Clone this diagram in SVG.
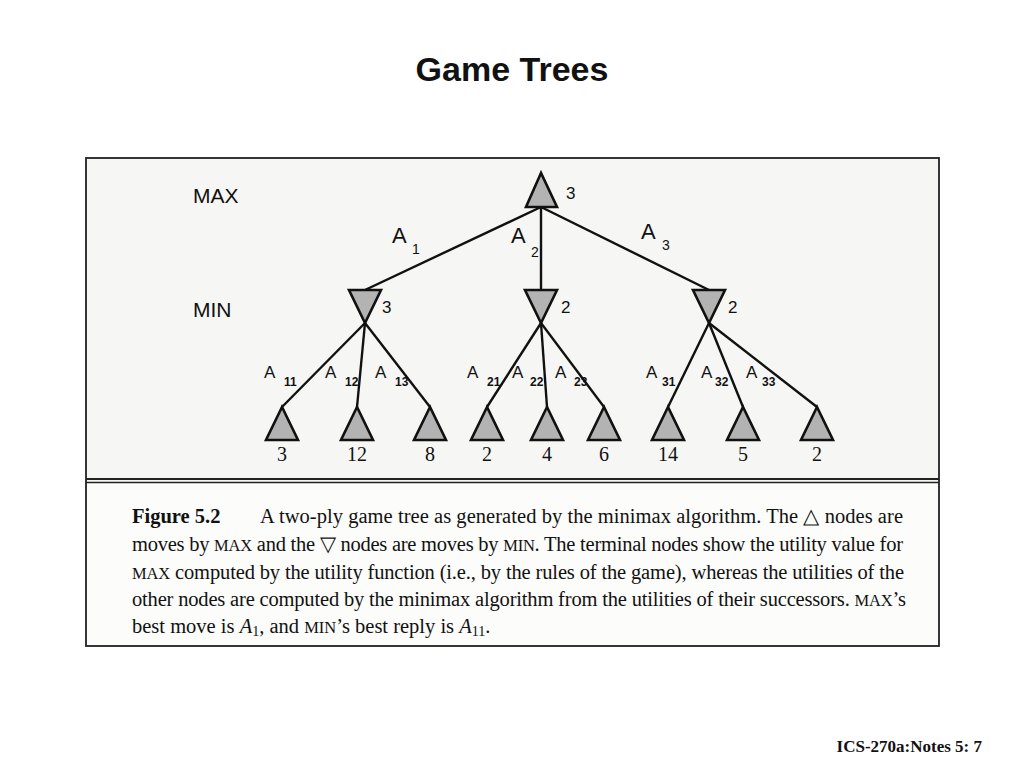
<svg xmlns="http://www.w3.org/2000/svg" width="1024" height="768" viewBox="0 0 1024 768">
<style>
.sans{font-family:"Liberation Sans",Arial,sans-serif;fill:#111}
.serif{font-family:"Liberation Serif","Times New Roman",serif;fill:#111}
.node{fill:#b3b3b3;stroke:#111;stroke-width:2.6;stroke-linejoin:miter}
.edge{stroke:#111;stroke-width:2.4;fill:none}
.lvl{font-size:21px}
.lbl{font-size:22px}
.sub{font-size:14px}
.lbl2{font-size:17px}
.sub2{font-size:12px;font-weight:bold}
.val{font-size:17px}
.leafv{font-size:20px}
.cap{font-size:20.5px}
.sc{font-size:16.5px}
</style>
<rect x="0" y="0" width="1024" height="768" fill="#ffffff"/>
<text x="512" y="81" text-anchor="middle" class="sans" font-size="34" font-weight="bold">Game Trees</text>

<g id="frame">
<rect x="86" y="158" width="853" height="488" fill="#f6f6f4" stroke="#222" stroke-width="1.8"/>
<rect x="87" y="482" width="851" height="163" fill="#fcfcfb"/>
<line x1="86" y1="479" x2="939" y2="479" stroke="#222" stroke-width="1.8"/>
<line x1="86" y1="482.5" x2="939" y2="482.5" stroke="#222" stroke-width="1.6"/>
</g>

<text x="193" y="203" class="sans lvl">MAX</text>
<text x="193" y="317" class="sans lvl">MIN</text>

<g id="connectors">
<line class="edge" x1="541" y1="207" x2="365" y2="290"/>
<line class="edge" x1="541" y1="207" x2="541" y2="290"/>
<line class="edge" x1="541" y1="207" x2="709" y2="290"/>
<line class="edge" x1="365" y1="323" x2="282" y2="407"/>
<line class="edge" x1="365" y1="323" x2="357" y2="407"/>
<line class="edge" x1="365" y1="323" x2="430" y2="407"/>
<line class="edge" x1="541" y1="323" x2="487" y2="407"/>
<line class="edge" x1="541" y1="323" x2="547" y2="407"/>
<line class="edge" x1="541" y1="323" x2="604" y2="407"/>
<line class="edge" x1="709" y1="323" x2="668" y2="407"/>
<line class="edge" x1="709" y1="323" x2="743" y2="407"/>
<line class="edge" x1="709" y1="323" x2="817" y2="407"/>
<text x="392" y="243" class="sans lbl">A</text><text x="412" y="254" class="sans sub">1</text>
<text x="511" y="243" class="sans lbl">A</text><text x="531" y="257" class="sans sub">2</text>
<text x="641" y="239" class="sans lbl">A</text><text x="662" y="250" class="sans sub">3</text>
<text x="264" y="378" class="sans lbl2">A</text><text x="284" y="386" class="sans sub2">11</text>
<text x="325" y="378" class="sans lbl2">A</text><text x="345" y="386" class="sans sub2">12</text>
<text x="375" y="378" class="sans lbl2">A</text><text x="395" y="386" class="sans sub2">13</text>
<text x="467" y="378" class="sans lbl2">A</text><text x="487" y="386" class="sans sub2">21</text>
<text x="512" y="378" class="sans lbl2">A</text><text x="530" y="386" class="sans sub2">22</text>
<text x="555" y="378" class="sans lbl2">A</text><text x="574" y="386" class="sans sub2">23</text>
<text x="646" y="378" class="sans lbl2">A</text><text x="662" y="386" class="sans sub2">31</text>
<text x="701" y="378" class="sans lbl2">A</text><text x="715" y="386" class="sans sub2">32</text>
<text x="746" y="378" class="sans lbl2">A</text><text x="762" y="386" class="sans sub2">33</text>
</g>

<g id="max-root"><polygon class="node" points="541,173 526,207 557,207"/><text x="566" y="199" class="sans val">3</text></g>
<g id="min-1"><polygon class="node" points="349,290 381,290 365,323"/><text x="382" y="313" class="sans val">3</text></g>
<g id="min-2"><polygon class="node" points="525,290 557,290 541,323"/><text x="561" y="313" class="sans val">2</text></g>
<g id="min-3"><polygon class="node" points="693,290 725,290 709,323"/><text x="728" y="313" class="sans val">2</text></g>

<g id="leaf-11"><polygon class="node" points="282,407 266,440 298,440"/><text x="282" y="461" text-anchor="middle" class="serif leafv">3</text></g>
<g id="leaf-12"><polygon class="node" points="357,407 341,440 373,440"/><text x="357" y="461" text-anchor="middle" class="serif leafv">12</text></g>
<g id="leaf-13"><polygon class="node" points="430,407 414,440 446,440"/><text x="430" y="461" text-anchor="middle" class="serif leafv">8</text></g>
<g id="leaf-21"><polygon class="node" points="487,407 471,440 503,440"/><text x="487" y="461" text-anchor="middle" class="serif leafv">2</text></g>
<g id="leaf-22"><polygon class="node" points="547,407 531,440 563,440"/><text x="547" y="461" text-anchor="middle" class="serif leafv">4</text></g>
<g id="leaf-23"><polygon class="node" points="604,407 588,440 620,440"/><text x="604" y="461" text-anchor="middle" class="serif leafv">6</text></g>
<g id="leaf-31"><polygon class="node" points="668,407 652,440 684,440"/><text x="668" y="461" text-anchor="middle" class="serif leafv">14</text></g>
<g id="leaf-32"><polygon class="node" points="743,407 727,440 759,440"/><text x="743" y="461" text-anchor="middle" class="serif leafv">5</text></g>
<g id="leaf-33"><polygon class="node" points="817,407 801,440 833,440"/><text x="817" y="461" text-anchor="middle" class="serif leafv">2</text></g>

<g id="caption" class="serif cap">
<text x="132" y="523" font-weight="bold">Figure 5.2</text>
<text x="260" y="523" textLength="643" lengthAdjust="spacing">A two-ply game tree as generated by the minimax algorithm.  The △ nodes are</text>
<text x="132" y="551" textLength="771" lengthAdjust="spacing">moves by <tspan class="sc">MAX</tspan> and the ▽ nodes are moves by <tspan class="sc">MIN</tspan>. The terminal nodes show the utility value for</text>
<text x="132" y="579" textLength="772" lengthAdjust="spacing"><tspan class="sc">MAX</tspan> computed by the utility function (i.e., by the rules of the game), whereas the utilities of the</text>
<text x="132" y="606" textLength="774" lengthAdjust="spacing">other nodes are computed by the minimax algorithm from the utilities of their successors. <tspan class="sc">MAX</tspan>’s</text>
<text x="132" y="633">best move is <tspan font-style="italic">A</tspan><tspan font-size="14" dy="3">1</tspan><tspan dy="-3">, and </tspan><tspan class="sc">MIN</tspan>’s best reply is <tspan font-style="italic">A</tspan><tspan font-size="14" dy="3">11</tspan><tspan dy="-3">.</tspan></text>
</g>

<text x="982" y="752" text-anchor="end" class="serif" font-size="17" font-weight="bold">ICS-270a:Notes 5: 7</text>
</svg>
